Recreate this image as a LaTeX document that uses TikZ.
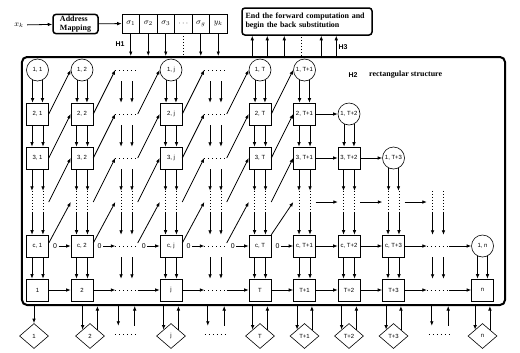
\documentclass[tikz,border=0pt]{standalone}
\usepackage{fontspec}
\setmainfont{Liberation Serif}
\setsansfont{Liberation Sans}
\usetikzlibrary{arrows.meta,positioning,shapes.geometric}

% two parallel arrows from one node down to the next
\newcommand\twin[2]{%
  \draw[arr] (#1.-116) -- (#1.-116 |- #2.north);
  \draw[arr] (#1.-64) -- (#1.-64 |- #2.north);}

\begin{document}
\begin{tikzpicture}[x=1bp, y=-1bp, on grid,
  node distance=44bp and 44.5bp,
  arr/.style={-{Latex[length=4.5bp,width=3.6bp]}, line width=0.8bp},
  cell/.style={draw, line width=0.6bp, minimum size=22bp, inner sep=0pt, font=\sffamily\fontsize{6}{7}\selectfont},
  circ/.style={cell, circle},
  dotrow/.style={draw, line width=0.8bp, dash pattern=on 0.8bp off 3.2bp},
  dotcol/.style={draw, line width=0.6bp, dash pattern=on 0.8bp off 2.2bp},
  gap/.style={minimum size=22bp, inner sep=0pt, append after command={(\tikzlastnode.west) edge[dotrow] (\tikzlastnode.east)}},
  bgap/.style={minimum size=16bp, inner sep=0pt, append after command={([xshift=-3bp]\tikzlastnode.west) edge[dotrow] ([xshift=3bp]\tikzlastnode.east)}},
  vgap/.style={minimum size=22bp, inner sep=0pt, append after command={(\tikzlastnode.116) edge[dotcol] (\tikzlastnode.-116) (\tikzlastnode.64) edge[dotcol] (\tikzlastnode.-64)}},
  leaf/.style={cell, diamond, aspect=1.16, minimum width=29bp, minimum height=25bp},
  zero/.style={inner sep=1.5bp, anchor=west, font=\sffamily\fontsize{7}{7}\selectfont},
  sig/.style={draw, line width=0.6bp, minimum width=17.5bp, minimum height=19bp, inner sep=0pt, font=\fontsize{8}{9}\selectfont},
  rbox/.style={draw, line width=1.5bp, rounded corners=3bp, font=\bfseries\fontsize{8}{9}\selectfont, align=left},
  hlab/.style={font=\sffamily\bfseries\fontsize{7}{7}\selectfont}
]
\useasboundingbox (0,0) rectangle (520,352);

% input side
\node[font=\fontsize{8}{9}\selectfont] (xk) at (19,25) {$x_k$};
\node[rbox, minimum width=45bp, minimum height=18bp, inner sep=1.5bp] (map) at (75.5,24) {Address\\Mapping};
\node[sig] (s1) at (130.75,23.5) {$\sigma_1$};
\node[sig, right=17.5bp of s1] (s2) {$\sigma_2$};
\node[sig, right=17.5bp of s2] (s3) {$\sigma_3$};
\node[sig, right=17.5bp of s3] (s4) {$\cdots$};
\node[sig, right=17.5bp of s4] (s5) {$\sigma_g$};
\node[sig, right=17.5bp of s5] (s6) {$y_k$};
\node[rbox, text width=123bp, minimum height=27bp, inner sep=3.5bp] (endbox) at (307,21.5) {End the forward computation and\\begin the back substitution};

\node[draw, line width=2bp, rounded corners=5bp, minimum width=483bp, minimum height=248bp, inner sep=0pt] (frame) at (263.5,181) {};
\node[hlab] (h1) at (120,44) {H1};
\node[hlab] (h3) at (343,47) {H3};
\node[hlab] (h2) at (353,75) {H2};
\node[anchor=west, inner sep=0pt, font=\bfseries\fontsize{8}{9}\selectfont] (rect) at (369,75) {rectangular structure};

% row 1
\node[circ] (a1) at (37.5,70) {1, 1};
\node[circ, right=of a1] (a2) {1, 2};
\node[gap, right=of a2] (a3) {};
\node[circ, right=of a3] (a4) {1, j};
\node[gap, right=of a4] (a5) {};
\node[circ, right=of a5] (a6) {1, T};
\node[circ, right=of a6] (a7) {1, T+1};
% row 2
\node[cell, below=of a1] (b1) {2, 1};
\node[cell, below=of a2] (b2) {2, 2};
\node[gap, below=of a3] (b3) {};
\node[cell, below=of a4] (b4) {2, j};
\node[gap, below=of a5] (b5) {};
\node[cell, below=of a6] (b6) {2, T};
\node[cell, below=of a7] (b7) {2, T+1};
\node[circ, right=of b7] (b8) {1, T+2};
% row 3
\node[cell, below=of b1] (c1) {3, 1};
\node[cell, below=of b2] (c2) {3, 2};
\node[gap, below=of b3] (c3) {};
\node[cell, below=of b4] (c4) {3, j};
\node[gap, below=of b5] (c5) {};
\node[cell, below=of b6] (c6) {3, T};
\node[cell, below=of b7] (c7) {3, T+1};
\node[cell, below=of b8] (c8) {3, T+2};
\node[circ, right=of c8] (c9) {1, T+3};
% dotted row
\node[vgap, below=of c1] (d1) {};
\node[vgap, below=of c2] (d2) {};
\node[vgap, below=of c3] (d3) {};
\node[vgap, below=of c4] (d4) {};
\node[vgap, below=of c5] (d5) {};
\node[vgap, below=of c6] (d6) {};
\node[vgap, below=of c7] (d7) {};
\node[vgap, below=of c8] (d8) {};
\node[vgap, below=of c9] (d9) {};
\node[vgap, right=of d9] (d10) {};
% row c
\node[cell, below=of d1] (e1) {c, 1};
\node[cell, below=of d2] (e2) {c, 2};
\node[gap, below=of d3] (e3) {};
\node[cell, below=of d4] (e4) {c, j};
\node[gap, below=of d5] (e5) {};
\node[cell, below=of d6] (e6) {c, T};
\node[cell, below=of d7] (e7) {c, T+1};
\node[cell, below=of d8] (e8) {c, T+2};
\node[cell, below=of d9] (e9) {c, T+3};
\node[gap, below=of d10] (e10) {};
\node[circ, right=of e10] (e11) {1, n};
% last row
\node[cell, below=of e1] (f1) {1};
\node[cell, below=of e2] (f2) {2};
\node[gap, below=of e3] (f3) {};
\node[cell, below=of e4] (f4) {j};
\node[gap, below=of e5] (f5) {};
\node[cell, below=of e6] (f6) {T};
\node[cell, below=of e7] (f7) {T+1};
\node[cell, below=of e8] (f8) {T+2};
\node[cell, below=of e9] (f9) {T+3};
\node[gap, below=of e10] (f10) {};
\node[cell, below=of e11] (f11) {n};
% outputs
\node[leaf, below=46bp of f1, xshift=-3.5bp] (g1) {1};
\node[leaf, below=46bp of f2, xshift=8bp] (g2) {2};
\node[bgap, below=44bp of f3] (g3) {};
\node[leaf, below=46bp of f4] (g4) {j};
\node[bgap, below=44bp of f5, xshift=0.5bp] (g5) {};
\node[leaf, below=46bp of f6] (g6) {T};
\node[leaf, below=46bp of f7] (g7) {T+1};
\node[leaf, below=46bp of f8] (g8) {T+2};
\node[leaf, below=46bp of f9] (g9) {T+3};
\node[bgap, below=44bp of f10, xshift=2bp] (g10) {};
\node[leaf, below=46bp of f11] (g11) {n};

% top connectors
\draw[arr] (xk) -- (map);
\draw[arr] (map) -- (s1);
\foreach \s in {s1,s2,s3,s5,s6} \draw[arr] (\s) -- (\s |- frame.north);
\draw[dotcol] (s4) -- (s4 |- frame.north);
\coordinate (up1) at ([xshift=11bp]endbox.south west);
\coordinate (up2) at ([xshift=26bp]endbox.south west);
\coordinate (up3) at ([xshift=43bp]endbox.south west);
\coordinate (up4) at ([xshift=60bp]endbox.south west);
\coordinate (up5) at ([xshift=80bp]endbox.south west);
\coordinate (up6) at ([xshift=95bp]endbox.south west);
\foreach \u in {up1,up2,up3,up5,up6} \draw[arr] (\u |- frame.north) -- (\u);
\draw[dotcol] (up4 |- frame.north) -- (up4);

% vertical pairs
\foreach \k in {1,...,7} {\twin{a\k}{b\k}}
\foreach \k in {1,...,8} {\twin{b\k}{c\k}}
\foreach \k in {1,...,9} {\twin{c\k}{d\k}}
\foreach \k in {1,...,10} {\twin{d\k}{e\k}}
\foreach \k in {1,...,11} {\twin{e\k}{f\k}}

% diagonals
\foreach \k [count=\n from 2] in {1,...,6} {
  \draw[arr] (b\k.east) -- (a\n.west);
  \draw[arr] (c\k.east) -- (b\n.west);
  \draw[arr] (d\k.east) -- (c\n.west);
}
\foreach \k [count=\n from 2] in {1,...,5} {\draw[arr] (e\k.15) -- (d\n.west);}
\draw[arr] (e6.north east) -- (d7.west);

% horizontal links
\draw[arr] (b7) -- (b8);
\draw[arr] (c7) -- (c8); \draw[arr] (c8) -- (c9);
\draw[arr] (d7) -- (d8); \draw[arr] (d8) -- (d9); \draw[arr] (d9) -- (d10);
\foreach \k [count=\n from 2] in {1,...,6} {
  \node[zero] (z\k) at ([xshift=2.5bp]e\k.east) {0};
  \draw[arr] (z\k) -- (e\n);
}
\draw[arr] (e7) -- (e8); \draw[arr] (e8) -- (e9);
\draw[arr] (e9) -- (e10); \draw[arr] (e10) -- (e11);
\foreach \k [count=\n from 2] in {1,...,10} {\draw[arr] (f\k) -- (f\n);}

% to and from the outputs
\draw[arr] (g1.north |- frame.south) -- (g1);
\foreach \k in {2,...,11} {
  \draw[arr] (g\k.north west |- frame.south) -- (g\k.north west);
  \draw[arr] (g\k.north east) -- (g\k.north east |- frame.south);
}
\end{tikzpicture}
\end{document}
